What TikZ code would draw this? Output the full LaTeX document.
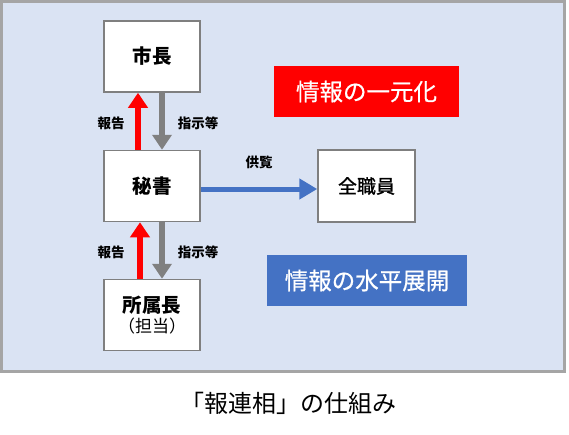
\documentclass[tikz,border=0pt]{standalone}
\usepackage{fontspec}
\setmainfont{Noto Sans CJK JP}
\usetikzlibrary{arrows.meta}
\definecolor{panelfill}{HTML}{DAE3F3}
\definecolor{panelline}{HTML}{A5A5A5}
\definecolor{boxline}{HTML}{7F7F7F}
\definecolor{arrgray}{HTML}{808080}
\definecolor{arrred}{HTML}{FF0000}
\definecolor{arrblue}{HTML}{4472C4}
\tikzset{
  whitebox/.style={draw=boxline, line width=1.5pt, fill=white, minimum width=96pt, minimum height=71pt, inner sep=0pt, font=\fontsize{19.5pt}{23pt}\selectfont\bfseries, align=center},
  tagbox/.style={minimum height=51pt, inner sep=0pt, text=white, font=\fontsize{23.5pt}{27pt}\selectfont\addfontfeature{FakeBold=0.6}},
  fatarrow/.style={line width=6pt, -{Triangle[width=19pt,length=15pt]}},
  lbl/.style={font=\fontsize{13.5pt}{15pt}\selectfont\bfseries, inner sep=0pt}
}
\begin{document}
\begin{tikzpicture}[x=1pt,y=-1pt]
\useasboundingbox (0,0) rectangle (569,434);
\draw[draw=panelline, fill=panelfill, line width=3pt] (1.5,1.5) rectangle (564.5,371);
\node[whitebox] (shicho) at (152,56.5) {市長};
\node[whitebox] (hisho) at (152,186) {秘書};
\node[whitebox] (shozoku) at (152,315) {所属長\\[-3pt]{\mdseries\fontsize{17pt}{20pt}\selectfont （担当）}};
\node[whitebox, minimum width=97pt, minimum height=72pt, font=\fontsize{19pt}{23pt}\selectfont\addfontfeature{FakeBold=1.2}] (zen) at (366.5,186) {全職員};
\node[tagbox, fill=arrred, minimum width=185pt] (ichigen) at (366.5,91.5) {情報の一元化};
\node[tagbox, fill=arrblue, minimum width=200pt] (suihei) at (367,280.5) {情報の水平展開};
\draw[fatarrow, arrred] ([xshift=-14pt]hisho.north) -- ([xshift=-14pt]shicho.south);
\draw[fatarrow, arrgray] ([xshift=10pt]shicho.south) -- ([xshift=10pt]hisho.north);
\draw[fatarrow, arrred] ([xshift=-12pt]shozoku.north) -- ([xshift=-12pt]hisho.south);
\draw[fatarrow, arrgray] ([xshift=10pt]hisho.south) -- ([xshift=10pt]shozoku.north);
\draw[line width=5pt, arrblue, -{Triangle[width=20pt,length=18pt]}] ([yshift=-3pt]hisho.east) -- ([yshift=-3pt]zen.west);
\node[lbl] (l1) at (111,123) {報告};
\node[lbl] (l2) at (198,123) {指示等};
\node[lbl] (l3) at (111,252) {報告};
\node[lbl] (l4) at (198,252) {指示等};
\node[lbl] (l5) at (259,162) {供覧};
\node[font=\fontsize{24pt}{28pt}\selectfont, inner sep=0pt] (title) at (288,403) {「報連相」の仕組み};
\end{tikzpicture}
\end{document}
